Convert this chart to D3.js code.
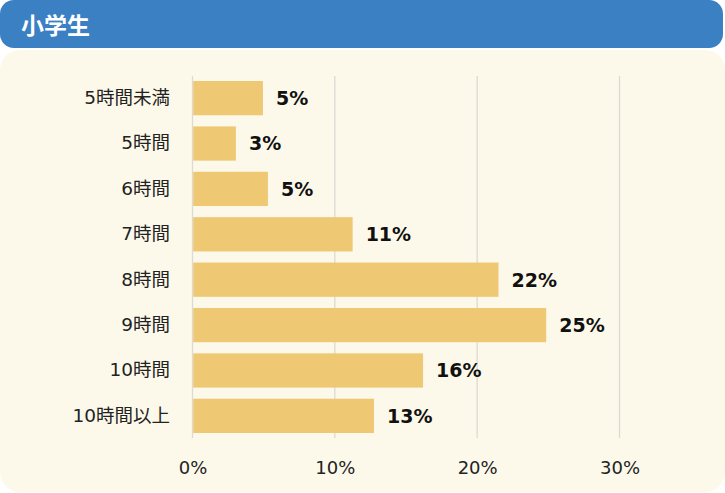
<!DOCTYPE html>
<html>
<head>
<meta charset="utf-8">
<script src="https://cdn.jsdelivr.net/npm/d3@7"></script>
<style>
  body{margin:0;background:#fff;}
  svg{display:block;font-family:"DejaVu Sans","Noto Sans CJK JP",sans-serif;}
</style>
</head>
<body>
<svg id="svg1" width="725" height="493"></svg>
<script>
var title = "小学生"
var categories = ["5時間未満","5時間","6時間","7時間","8時間","9時間","10時間","10時間以上"]
var values = [4.95, 3.05, 5.3, 11.25, 21.5, 24.85, 16.2, 12.75]
var valueLabels = ["5%","3%","5%","11%","22%","25%","16%","13%"]
var ticks = [0, 10, 20, 30]

var svg = d3.select("#svg1")

// panels
svg.append("rect").attr("x",0).attr("y",50).attr("width",725).attr("height",442)
    .attr("rx",20).attr("fill","#fdf9ea")
svg.append("rect").attr("x",0).attr("y",0).attr("width",723).attr("height",48)
    .attr("rx",14).attr("fill","#3a80c3")
svg.append("text").attr("x",21).attr("y",34).text(title)
    .attr("fill","#fff").attr("font-size",23).attr("font-weight",700)
    .attr("font-family","'Noto Sans CJK JP',sans-serif")

var x = d3.scaleLinear().domain([0,30]).range([192.5,619.5])
var y = d3.scaleBand().domain(categories).range([76,438]).paddingInner(0.245).paddingOuter(0.11)

// grid
svg.selectAll("line.grid")
    .data(ticks)
    .enter()
    .append("line")
    .attr("class","grid")
    .attr("x1",function(d){ return x(d)})
    .attr("x2",function(d){ return x(d)})
    .attr("y1",76)
    .attr("y2",438)
    .attr("stroke","#dcdad3")
    .attr("stroke-width",1.3)

// bars
svg.selectAll("rect.bar")
    .data(values)
    .enter()
    .append("rect")
    .attr("class","bar")
    .attr("x",x(0)+0.7)
    .attr("y",function(d,i){ return y(categories[i])})
    .attr("width",function(d){ return x(d)-x(0)-0.7})
    .attr("height",y.bandwidth())
    .attr("fill","#efc874")

// value labels
svg.selectAll("text.val")
    .data(values)
    .enter()
    .append("text")
    .attr("class","val")
    .attr("x",function(d){ return x(d)+13})
    .attr("y",function(d,i){ return y(categories[i])+y.bandwidth()/2})
    .attr("dy","0.36em")
    .attr("font-size",19)
    .attr("font-weight",700)
    .attr("fill","#111")
    .text(function(d,i){ return valueLabels[i]})

// category labels
var yAxis = svg.append("g").attr("transform","translate(170,0)")
    .call(d3.axisLeft(y).tickSize(0).tickPadding(0))
yAxis.select(".domain").remove()
yAxis.selectAll("text").attr("font-size",18.5).attr("fill","#222")
    .attr("font-family","'DejaVu Sans','Noto Sans CJK JP',sans-serif")

// x axis
var xAxis = svg.append("g").attr("transform","translate(0,461)")
    .call(d3.axisBottom(x).tickValues(ticks).tickSize(0).tickPadding(0)
        .tickFormat(function(d){ return d+"%"}))
xAxis.select(".domain").remove()
xAxis.selectAll("text").attr("font-size",18).attr("fill","#222")
    .attr("font-family","'DejaVu Sans',sans-serif")
</script>
</body>
</html>
